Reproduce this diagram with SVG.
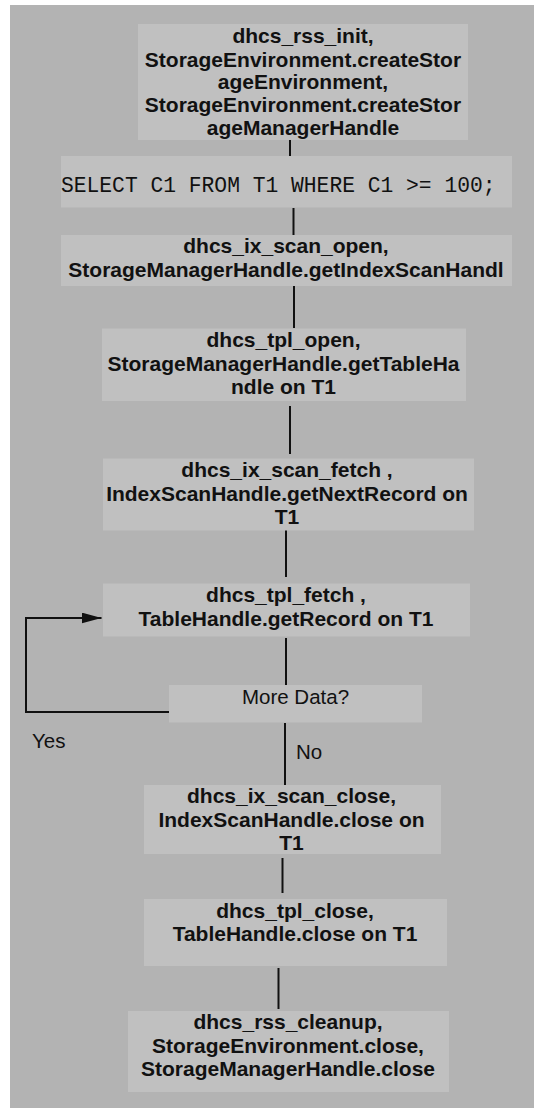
<svg xmlns="http://www.w3.org/2000/svg" width="534" height="1108" viewBox="0 0 534 1108">
  <style>
    .bg { fill: #b3b3b3; }
    .box { fill: #c0c0c0; }
    .lbl { font-family: "Liberation Sans", Arial, sans-serif; font-size: 21px; font-weight: bold; fill: #111; text-anchor: middle; }
    .plain { font-family: "Liberation Sans", Arial, sans-serif; font-size: 20.5px; fill: #111; }
    .mono { font-family: "Liberation Mono", "Courier New", monospace; font-size: 21.3px; fill: #111; }
    .wire { stroke: #111; stroke-width: 2; fill: none; }
  </style>
  <defs>
    <marker id="arrow" markerWidth="20" markerHeight="11" refX="20" refY="5.5" orient="auto" markerUnits="userSpaceOnUse">
      <path d="M0,0 L20,5.5 L0,11 Z" fill="#111"/>
    </marker>
  </defs>

  <rect class="bg" x="10" y="5" width="524" height="1103"/>

  <!-- connectors -->
  <g id="connectors">
    <line class="wire" x1="290" y1="140" x2="290" y2="156"/>
    <line class="wire" x1="293.5" y1="208" x2="293.5" y2="235"/>
    <line class="wire" x1="294" y1="280" x2="294" y2="328"/>
    <line class="wire" x1="290" y1="406" x2="290" y2="454"/>
    <line class="wire" x1="286" y1="530" x2="286" y2="577"/>
    <line class="wire" x1="286" y1="638" x2="286" y2="685"/>
    <line class="wire" x1="285" y1="723" x2="285" y2="785"/>
    <line class="wire" x1="282.5" y1="858" x2="282.5" y2="893"/>
    <line class="wire" x1="278.5" y1="968" x2="278.5" y2="1009"/>
    <polyline class="wire" points="173,712 26,712 26,618 101.5,618" marker-end="url(#arrow)"/>
    <text class="plain" x="32" y="748">Yes</text>
    <text class="plain" x="296" y="759">No</text>
  </g>

  <g id="rss_init">
    <rect class="box" x="138" y="24" width="330" height="116"/>
    <text class="lbl" x="303" y="43">dhcs_rss_init,</text>
    <text class="lbl" x="303" y="66.5">StorageEnvironment.createStor</text>
    <text class="lbl" x="303" y="89">ageEnvironment,</text>
    <text class="lbl" x="303" y="112">StorageEnvironment.createStor</text>
    <text class="lbl" x="303" y="135">ageManagerHandle</text>
  </g>

  <g id="sql">
    <rect class="box" x="61" y="156" width="451" height="51.5"/>
    <text class="mono" x="61" y="192">SELECT C1 FROM T1 WHERE C1 &gt;= 100;</text>
  </g>

  <g id="ix_scan_open">
    <rect class="box" x="61" y="235" width="451" height="51"/>
    <text class="lbl" x="286" y="253">dhcs_ix_scan_open,</text>
    <text class="lbl" x="286" y="276.5">StorageManagerHandle.getIndexScanHandl</text>
  </g>

  <g id="tpl_open">
    <rect class="box" x="102" y="328.5" width="364" height="72.5"/>
    <text class="lbl" x="283.5" y="347">dhcs_tpl_open,</text>
    <text class="lbl" x="283.5" y="370.5">StorageManagerHandle.getTableHa</text>
    <text class="lbl" x="283.5" y="394">ndle on T1</text>
  </g>

  <g id="ix_scan_fetch">
    <rect class="box" x="103" y="458.5" width="371" height="72"/>
    <text class="lbl" x="287" y="477">dhcs_ix_scan_fetch ,</text>
    <text class="lbl" x="287" y="500.5">IndexScanHandle.getNextRecord on</text>
    <text class="lbl" x="287" y="524">T1</text>
  </g>

  <g id="tpl_fetch">
    <rect class="box" x="103" y="583.5" width="367" height="53"/>
    <text class="lbl" x="286" y="602">dhcs_tpl_fetch ,</text>
    <text class="lbl" x="286" y="625.5">TableHandle.getRecord on T1</text>
  </g>

  <g id="more_data">
    <rect class="box" x="169" y="685" width="253" height="37.5"/>
    <text class="plain" x="295.5" y="704" text-anchor="middle">More Data?</text>
  </g>

  <g id="ix_scan_close">
    <rect class="box" x="144" y="785" width="297" height="69"/>
    <text class="lbl" x="291.5" y="803">dhcs_ix_scan_close,</text>
    <text class="lbl" x="291.5" y="826.5">IndexScanHandle.close on</text>
    <text class="lbl" x="291.5" y="849.5">T1</text>
  </g>

  <g id="tpl_close">
    <rect class="box" x="144" y="899" width="303" height="67"/>
    <text class="lbl" x="295" y="917.5">dhcs_tpl_close,</text>
    <text class="lbl" x="295" y="941">TableHandle.close on T1</text>
  </g>

  <g id="rss_cleanup">
    <rect class="box" x="128" y="1011" width="321" height="81"/>
    <text class="lbl" x="288" y="1028.5">dhcs_rss_cleanup,</text>
    <text class="lbl" x="288" y="1052.5">StorageEnvironment.close,</text>
    <text class="lbl" x="288" y="1076">StorageManagerHandle.close</text>
  </g>
</svg>
